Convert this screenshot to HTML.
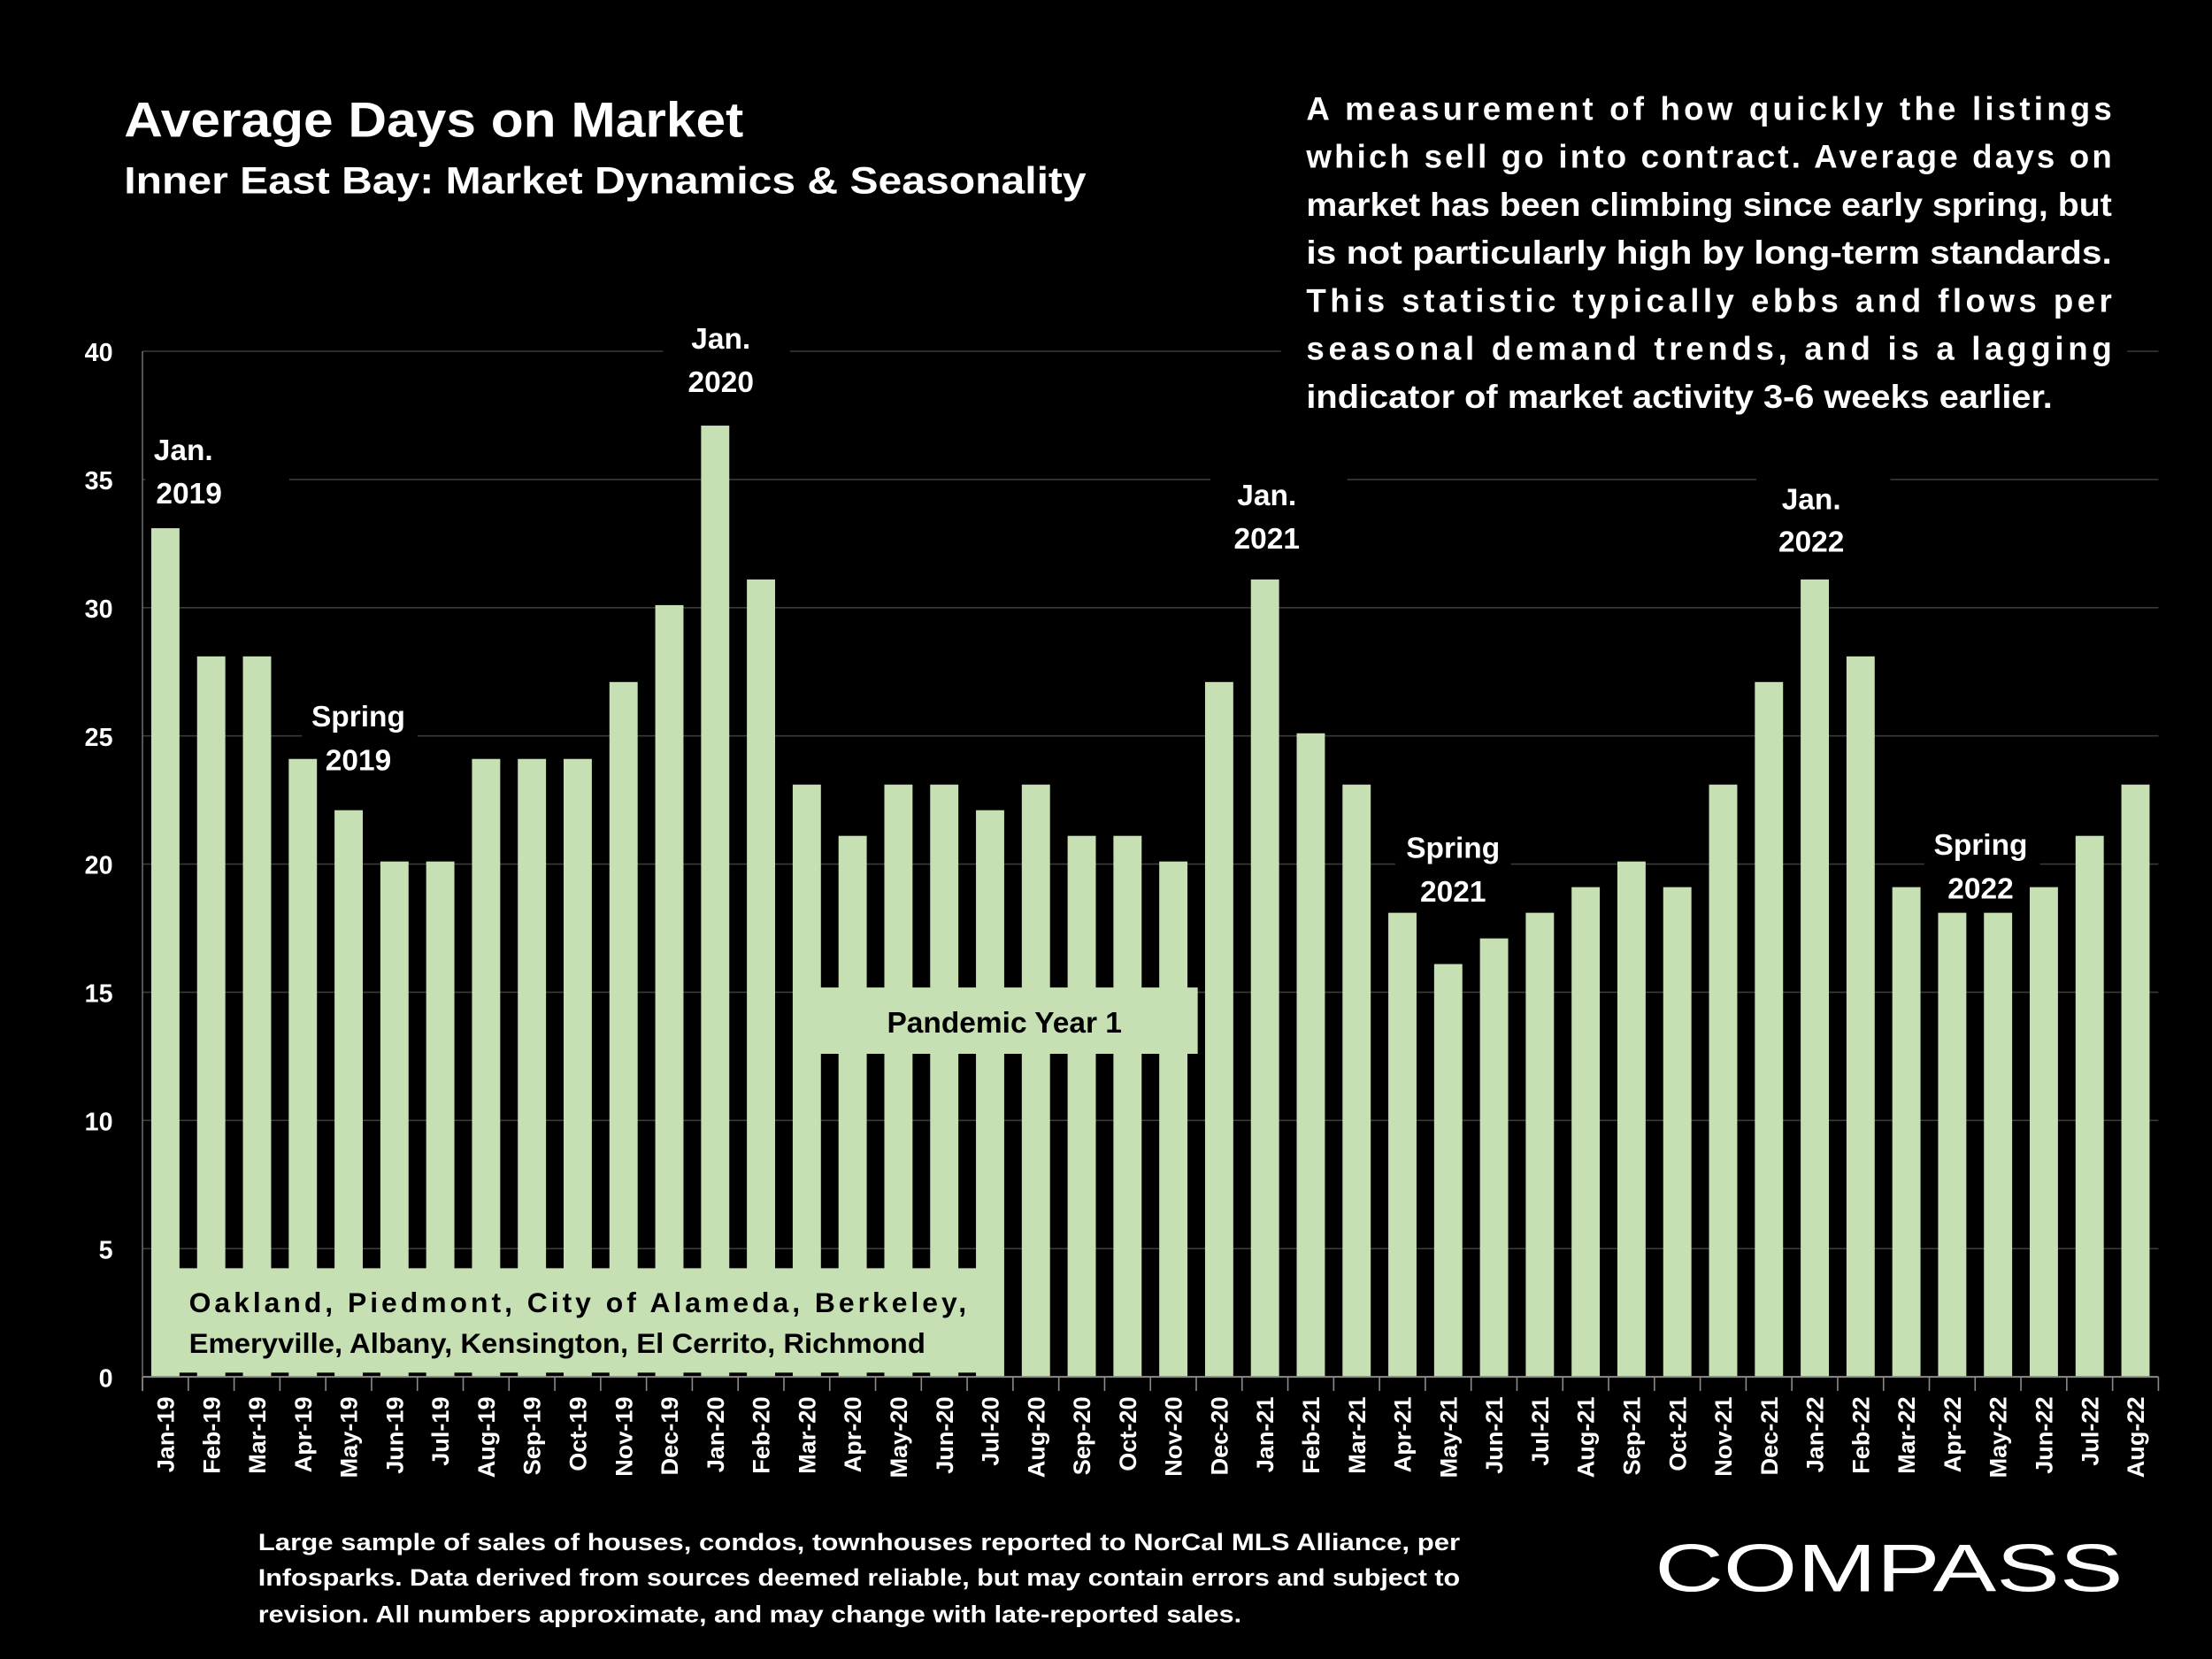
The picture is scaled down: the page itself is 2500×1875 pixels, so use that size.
<!DOCTYPE html>
<html><head><meta charset="utf-8"><style>
html,body{margin:0;padding:0;background:#000;}
svg{display:block;}
text{font-family:"Liberation Sans",sans-serif;font-weight:bold;}
</style></head><body>
<svg id="chart" width="2500" height="1875" viewBox="0 0 1568 1176" xmlns="http://www.w3.org/2000/svg">
<rect x="0" y="0" width="1568" height="1176" fill="#000"/>
<g id="grid"></g>
<g id="bars"></g>
<g id="axes"></g>

<text x="88" y="97" fill="#fff" font-size="35" textLength="439" lengthAdjust="spacingAndGlyphs">Average Days on Market</text>
<text x="88" y="137" fill="#fff" font-size="27" textLength="682" lengthAdjust="spacingAndGlyphs">Inner East Bay: Market Dynamics &amp; Seasonality</text>

<g>
<rect x="908" y="55" width="600" height="245" fill="#000"/>
<g fill="#fff" font-size="23">
<text x="926" y="85" textLength="571" lengthAdjust="spacing">A measurement of how quickly the listings</text>
<text x="926" y="119" textLength="571" lengthAdjust="spacing">which sell go into contract. Average days on</text>
<text x="926" y="153" textLength="571" lengthAdjust="spacingAndGlyphs">market has been climbing since early spring, but</text>
<text x="926" y="187" textLength="571" lengthAdjust="spacingAndGlyphs">is not particularly high by long-term standards.</text>
<text x="926" y="221" textLength="571" lengthAdjust="spacing">This statistic typically ebbs and flows per</text>
<text x="926" y="255" textLength="571" lengthAdjust="spacing">seasonal demand trends, and is a lagging</text>
<text x="926" y="289" textLength="529" lengthAdjust="spacingAndGlyphs">indicator of market activity 3-6 weeks earlier.</text>
</g></g>

<g fill="#fff" font-size="21" text-anchor="middle">
<g><rect x="103" y="296" width="102" height="70" fill="#000"/><text x="130" y="326">Jan.</text><text x="134" y="357">2019</text></g>
<g><rect x="470" y="222" width="90" height="70" fill="#000"/><text x="511" y="247">Jan.</text><text x="511" y="278">2020</text></g>
<g><rect x="858" y="333" width="97" height="70" fill="#000"/><text x="898" y="358">Jan.</text><text x="898" y="389">2021</text></g>
<g><rect x="1245" y="336" width="95" height="68" fill="#000"/><text x="1284" y="361">Jan.</text><text x="1284" y="391">2022</text></g>
<g><rect x="214" y="490" width="82" height="46" fill="#000"/><text x="254" y="515">Spring</text><text x="254" y="546">2019</text></g>
<g><rect x="989" y="584" width="82" height="62" fill="#000"/><text x="1030" y="608">Spring</text><text x="1030" y="639">2021</text></g>
<g><rect x="1364" y="582" width="82" height="44" fill="#000"/><text x="1404" y="606">Spring</text><text x="1404" y="637">2022</text></g>
</g>

<g>
<rect x="577" y="700" width="272" height="47" fill="#c6e0b4"/>
<text x="712" y="732" fill="#000" font-size="21" text-anchor="middle">Pandemic Year 1</text>
</g>

<g>
<rect x="127" y="899" width="584" height="74" fill="#c6e0b4"/>
<text x="134" y="930" fill="#000" font-size="20" textLength="551" lengthAdjust="spacing">Oakland, Piedmont, City of Alameda, Berkeley,</text>
<text x="134" y="959" fill="#000" font-size="20" textLength="522" lengthAdjust="spacingAndGlyphs">Emeryville, Albany, Kensington, El Cerrito, Richmond</text>
</g>

<g fill="#fff" font-size="17">
<text x="183" y="1099" textLength="852" lengthAdjust="spacingAndGlyphs">Large sample of sales of houses, condos, townhouses reported to NorCal MLS Alliance, per</text>
<text x="183" y="1124" textLength="852" lengthAdjust="spacingAndGlyphs">Infosparks. Data derived from sources deemed reliable, but may contain errors and subject to</text>
<text x="183" y="1150" textLength="697" lengthAdjust="spacingAndGlyphs">revision. All numbers approximate, and may change with late-reported sales.</text>
</g>
<text x="1173" y="1128" fill="#fff" font-size="48" style="font-weight:normal" textLength="332" lengthAdjust="spacingAndGlyphs">COMPASS</text>
</svg>
<script>
const categories = ["Jan-19","Feb-19","Mar-19","Apr-19","May-19","Jun-19","Jul-19","Aug-19","Sep-19","Oct-19","Nov-19","Dec-19","Jan-20","Feb-20","Mar-20","Apr-20","May-20","Jun-20","Jul-20","Aug-20","Sep-20","Oct-20","Nov-20","Dec-20","Jan-21","Feb-21","Mar-21","Apr-21","May-21","Jun-21","Jul-21","Aug-21","Sep-21","Oct-21","Nov-21","Dec-21","Jan-22","Feb-22","Mar-22","Apr-22","May-22","Jun-22","Jul-22","Aug-22"];
const values = [33.1,28.1,28.1,24.1,22.1,20.1,20.1,24.1,24.1,24.1,27.1,30.1,37.1,31.1,23.1,21.1,23.1,23.1,22.1,23.1,21.1,21.1,20.1,27.1,31.1,25.1,23.1,18.1,16.1,17.1,18.1,19.1,20.1,19.1,23.1,27.1,31.1,28.1,19.1,18.1,18.1,19.1,21.1,23.1];
const yTicks = [0,5,10,15,20,25,30,35,40];

const NS = "http://www.w3.org/2000/svg";
const X0 = 101, X1 = 1530, Y0 = 976, Y40 = 249;
const step = (X1 - X0) / categories.length;
function xScale(i){ return X0 + (i + 0.5) * step; }
function yScale(v){ return Y0 - (v / 40) * (Y0 - Y40); }
function mk(tag, attrs, parent){ const e = document.createElementNS(NS, tag); for (const k in attrs) e.setAttribute(k, attrs[k]); parent.appendChild(e); return e; }

const grid = document.getElementById('grid');
const axes = document.getElementById('axes');
const bars = document.getElementById('bars');

yTicks.forEach(t => {
  if (t > 0) {
    const l = mk('line', {x1: X0, x2: X1, y1: yScale(t), y2: yScale(t), stroke: '#3a3a3a', 'stroke-width': 1}, grid);
    
    
  }
  const tx = mk('text', {x: 80, y: yScale(t) + 7, fill: '#fff', 'font-size': 18, 'text-anchor': 'end'}, axes);
  tx.textContent = t;
  
  
});

values.forEach((v, i) => {
  const w = 20;
  const r = mk('rect', {x: xScale(i) - w/2, y: yScale(v), width: w, height: Y0 - yScale(v), fill: '#c6e0b4'}, bars);
  
  
});

const ax = mk('line', {x1: X0, x2: X1, y1: Y0, y2: Y0, stroke: '#8a8a8a', 'stroke-width': 1.2}, axes);


const ay = mk('line', {x1: X0, x2: X0, y1: Y40, y2: Y0 + 10, stroke: '#6a6a6a', 'stroke-width': 1}, axes);



for (let i = 0; i <= categories.length; i++) {
  const x = X0 + i * step;
  const tk = mk('line', {x1: x, x2: x, y1: Y0, y2: Y0 + 10, stroke: '#8a8a8a', 'stroke-width': 1}, axes);
  
  
}
categories.forEach((c, i) => {
  const x = xScale(i) + 6;
  const t = mk('text', {x: x, y: 990, fill: '#fff', 'font-size': 17, 'text-anchor': 'end', transform: 'rotate(-90 ' + x + ' 990)'}, axes);
  t.textContent = c;
  
  
});
</script>
</body></html>
